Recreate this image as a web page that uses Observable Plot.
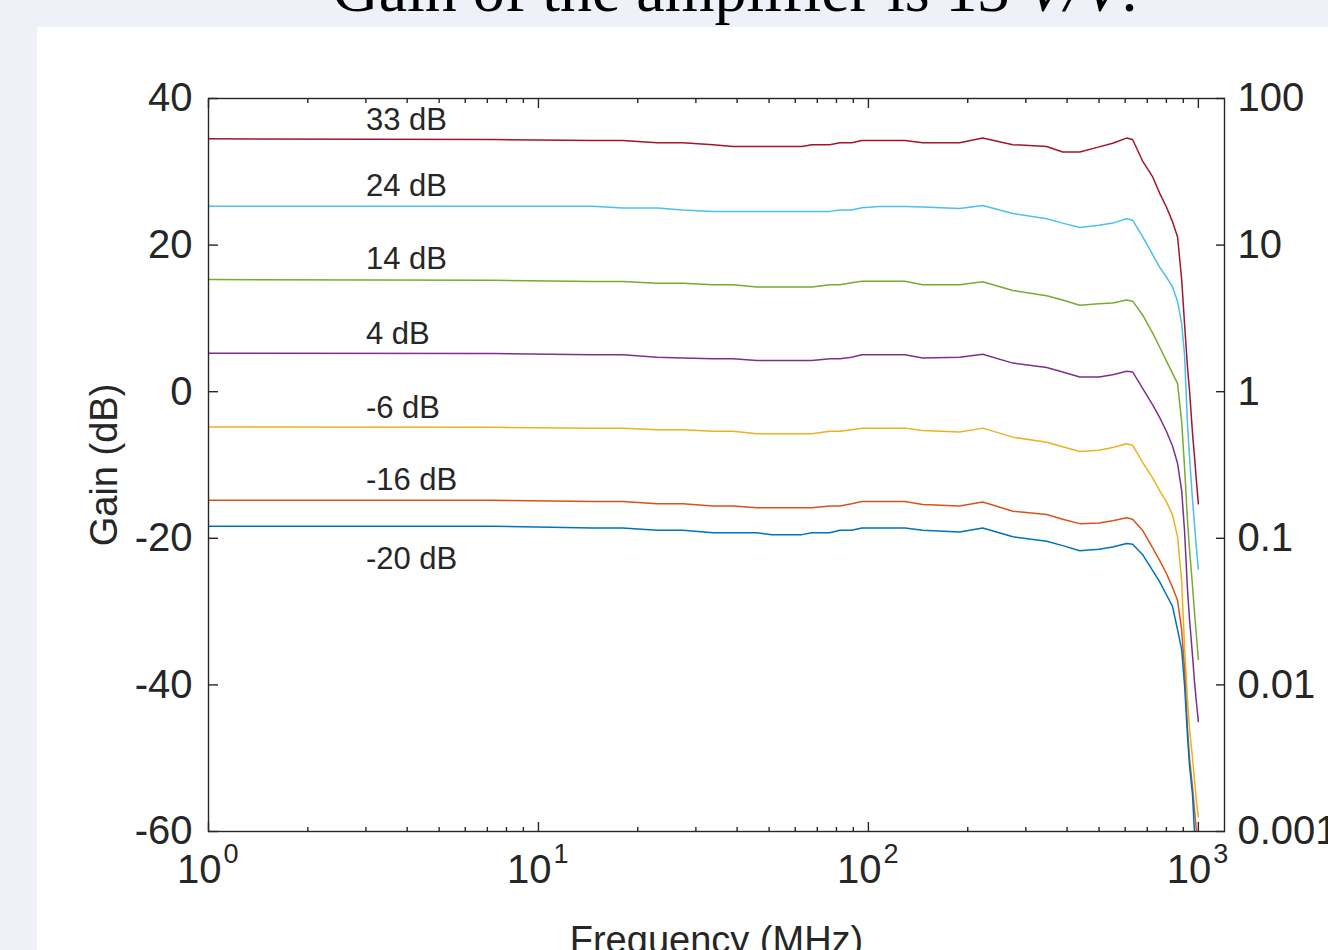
<!DOCTYPE html>
<html><head><meta charset="utf-8">
<script src="https://cdn.jsdelivr.net/npm/d3@7"></script>
<script src="https://cdn.jsdelivr.net/npm/@observablehq/plot@0.6"></script>
<style>
html,body{margin:0;padding:0;width:1328px;height:950px;overflow:hidden;background:#eff1f8;}
#title{position:absolute;left:0;width:1470px;top:-42px;text-align:center;font-family:"Liberation Serif",serif;font-size:64px;line-height:64px;color:#000;white-space:nowrap;}
#panel{position:absolute;left:37px;top:27px;width:1291px;height:923px;background:#fff;}
</style></head><body>
<div id="title">Gain of the amplifier is 13 <i>V/V</i>.</div>
<div id="panel"></div>
<script>
const freq = [1, 7.3, 14.6, 18, 22.9, 27.4, 33.8, 38.9, 45.9, 51, 62.8, 67.4, 76.4, 82, 89, 95.5, 108, 129, 146, 189, 222, 274, 347, 388, 437, 500, 550, 606, 632, 677, 727, 763, 800, 835, 865, 890, 908, 927, 940, 960, 973, 987, 1000];
const gain33 = [34.5, 34.4, 34.27, 34.27, 33.95, 33.95, 33.7, 33.45, 33.45, 33.45, 33.45, 33.7, 33.7, 33.95, 33.95, 34.27, 34.27, 34.27, 33.95, 33.95, 34.6, 33.7, 33.45, 32.7, 32.7, 33.4, 33.9, 34.6, 34.4, 31.5, 29.3, 27.1, 25.2, 23.2, 21.1, 15.3, 9.3, 3.3, 0.2, -5.7, -8.8, -12.3, -15.3];
const gain24 = [25.3, 25.3, 25.3, 25.05, 25.05, 24.8, 24.6, 24.6, 24.6, 24.6, 24.6, 24.6, 24.6, 24.8, 24.8, 25.1, 25.27, 25.27, 25.2, 25.0, 25.4, 24.3, 23.6, 23.0, 22.4, 22.7, 23.0, 23.6, 23.4, 21.2, 18.7, 17.0, 15.65, 14.3, 12.3, 9.3, 5.0, -4.5, -8.8, -14.8, -18.0, -21.5, -24.2];
const gain14 = [15.3, 15.2, 15.03, 15.03, 14.8, 14.8, 14.58, 14.58, 14.27, 14.27, 14.27, 14.27, 14.58, 14.58, 14.85, 15.08, 15.08, 15.08, 14.6, 14.6, 15.0, 13.8, 13.1, 12.5, 11.8, 12.0, 12.1, 12.5, 12.35, 10.5, 8.0, 6.1, 4.2, 2.5, 1.1, -4.1, -10.3, -17.6, -21.5, -26.5, -30.0, -33.5, -36.5];
const gain4 = [5.25, 5.2, 5.03, 5.03, 4.7, 4.6, 4.48, 4.48, 4.26, 4.26, 4.26, 4.26, 4.48, 4.48, 4.7, 5.03, 5.03, 5.03, 4.6, 4.7, 5.1, 3.9, 3.3, 2.7, 2.0, 2.0, 2.3, 2.8, 2.7, 0.5, -1.8, -3.5, -5.4, -7.4, -9.8, -13.5, -19, -27, -31, -36, -39.5, -42.5, -45];
const gainM6 = [-4.8, -4.85, -4.97, -4.97, -5.2, -5.2, -5.38, -5.38, -5.74, -5.74, -5.74, -5.74, -5.4, -5.4, -5.2, -5.0, -4.97, -4.97, -5.3, -5.5, -4.97, -6.2, -6.9, -7.5, -8.15, -8.0, -7.6, -7.1, -7.3, -9.6, -11.8, -13.5, -15.0, -16.8, -19.8, -25.8, -34.8, -42, -46, -50, -53, -56, -58];
const gainM16 = [-14.8, -14.8, -14.98, -14.98, -15.3, -15.3, -15.6, -15.6, -15.84, -15.84, -15.84, -15.84, -15.6, -15.6, -15.3, -14.98, -14.98, -14.98, -15.4, -15.6, -15.06, -16.3, -16.75, -17.4, -18.0, -17.9, -17.6, -17.2, -17.4, -18.9, -21.3, -23.0, -24.8, -26.7, -28.5, -32.5, -38, -46, -50, -54, -57, -60, null];
const gainM20 = [-18.35, -18.35, -18.6, -18.6, -18.9, -18.9, -19.25, -19.25, -19.25, -19.5, -19.5, -19.25, -19.25, -18.9, -18.9, -18.6, -18.6, -18.6, -18.9, -19.15, -18.6, -19.8, -20.4, -21.0, -21.7, -21.5, -21.2, -20.7, -20.8, -22.2, -24.4, -25.9, -27.7, -29.3, -32.5, -35.2, -40, -47, -51, -55, -60, null, null];

const seriesNames = ["33 dB", "24 dB", "14 dB", "4 dB", "-6 dB", "-16 dB", "-20 dB"];
const seriesValues = [gain33, gain24, gain14, gain4, gainM6, gainM16, gainM20];
const seriesColors = ["#A2142F", "#4DBEEE", "#77AC30", "#7E2F8E", "#EDB120", "#D95319", "#0072BD"];
const labelFreq = 3;
const labelGain = [37, 28.1, 18.1, 7.9, -2.3, -12, -22.8];

const leftTicks = [40, 20, 0, -20, -40, -60];
const rightTickValues = [100, 10, 1, 0.1, 0.01, 0.001];
const rightTickLabels = ["100", "10", "1", "0.1", "0.01", "0.001"];
const xMajor = [1, 10, 100, 1000];
const xExponents = ["0", "1", "2", "3"];
const xMinor = [2, 3, 4, 5, 6, 7, 8, 9, 20, 30, 40, 50, 60, 70, 80, 90, 200, 300, 400, 500, 600, 700, 800, 900];
const xLabel = "Frequency (MHz)";
const yLabel = "Gain (dB)";
const y2Label = "Gain (V/V)";

const rows = seriesNames.flatMap((s, k) => freq.map((f, i) => ({series: s, f, g: seriesValues[k][i]})));
const rightTickDb = rightTickValues.map(v => 20 * Math.log10(v));

const ink = "#262626";
const font = "Liberation Sans, Arial, sans-serif";

const chart = Plot.plot({
  width: 1291, height: 923,
  marginLeft: 171, marginRight: 104, marginTop: 71, marginBottom: 119,
  style: {fontFamily: font, color: ink, background: "transparent", overflow: "visible"},
  x: {type: "log", domain: [1, 1200]},
  y: {domain: [-60, 40]},
  color: {domain: seriesNames, range: seriesColors},
  marks: [
    Plot.line(rows, {x: "f", y: "g", z: "series", stroke: "series", strokeWidth: 1.5, clip: true}),
    Plot.text(seriesNames, {x: () => labelFreq, y: (d, i) => labelGain[i], text: d => d, textAnchor: "start", fontSize: 31, fill: ink}),
    Plot.frame({stroke: ink, strokeWidth: 1.4}),
    Plot.axisY(leftTicks, {anchor: "left", tickSize: -10, strokeWidth: 1.4, tickFormat: () => "", label: null}),
    Plot.axisY(leftTicks, {anchor: "left", tickSize: 0, tickPadding: 16, fontSize: 40, fill: ink, tickFormat: d => String(d), label: null}),
    Plot.axisY(rightTickDb, {anchor: "right", tickSize: -9, strokeWidth: 1.4, tickFormat: () => "", label: null}),
    Plot.text(rightTickLabels, {frameAnchor: "right", y: (d, i) => rightTickDb[i], text: d => d, textAnchor: "start", lineAnchor: "middle", dx: 13, fontSize: 40, fill: ink}),
    Plot.axisX(xMajor, {anchor: "bottom", tickSize: -9, strokeWidth: 1.4, tickFormat: () => "", label: null}),
    Plot.axisX(xMinor, {anchor: "bottom", tickSize: -4, strokeWidth: 1.4, tickFormat: () => "", label: null}),
    Plot.axisX(xMajor, {anchor: "top", tickSize: -9, strokeWidth: 1.4, tickFormat: () => "", label: null}),
    Plot.axisX(xMinor, {anchor: "top", tickSize: -4, strokeWidth: 1.4, tickFormat: () => "", label: null}),
    Plot.text(xMajor, {x: d => d, frameAnchor: "bottom", text: () => "10", textAnchor: "end", lineAnchor: "middle", dx: 13, dy: 39, fontSize: 40, fill: ink}),
    Plot.text(xExponents, {x: (d, i) => xMajor[i], frameAnchor: "bottom", text: d => d, textAnchor: "start", lineAnchor: "middle", dx: 15, dy: 23, fontSize: 27, fill: ink}),
    Plot.text([xLabel], {frameAnchor: "bottom", text: d => d, textAnchor: "middle", lineAnchor: "middle", dy: 109, fontSize: 38, fill: ink}),
    Plot.text([yLabel], {frameAnchor: "left", text: d => d, rotate: -90, textAnchor: "middle", lineAnchor: "middle", dx: -104, fontSize: 38, fill: ink}),
    Plot.text([y2Label], {frameAnchor: "right", text: d => d, rotate: -90, textAnchor: "middle", lineAnchor: "middle", dx: 121, fontSize: 38, fill: "#8c8c8c"})
  ]
});
chart.style.position = "absolute";
chart.style.left = "0";
chart.style.top = "0";
document.getElementById("panel").appendChild(chart);
</script>
</body></html>
